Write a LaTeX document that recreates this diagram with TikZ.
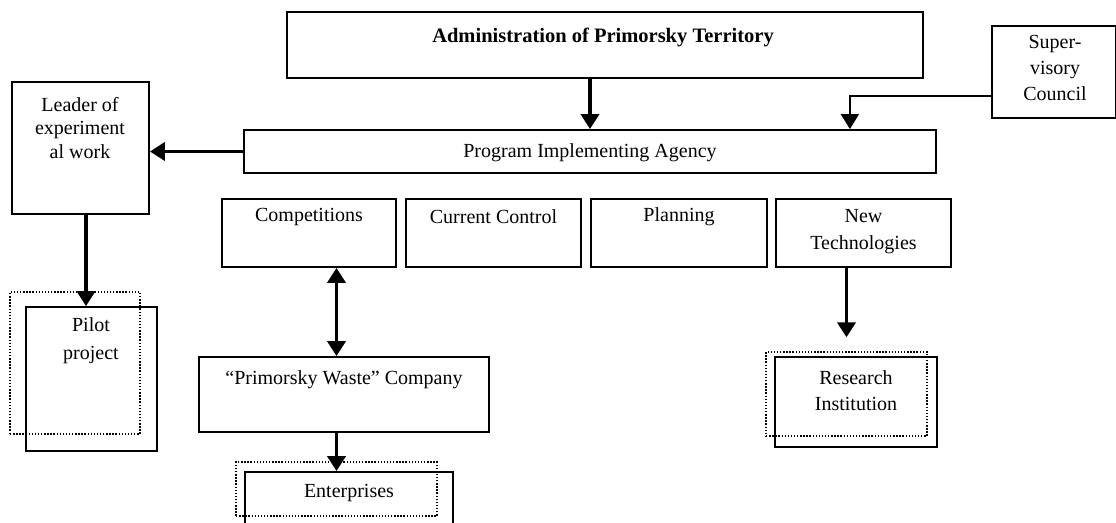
\documentclass[tikz,border=0pt]{standalone}
\usepackage{fontspec}
\setmainfont{Liberation Serif}
\usetikzlibrary{arrows.meta,calc}
\begin{document}
\begin{tikzpicture}[x=1pt,y=-1pt,
  box/.style 2 args={draw,line width=1.8pt,minimum width=#1pt,minimum height=#2pt,inner sep=0pt},
  dotbox/.style 2 args={draw,line width=1.4pt,dash pattern=on 1.4pt off 1.7pt,minimum width=#1pt,minimum height=#2pt,inner sep=0pt},
  txt/.style={inner sep=0pt,align=center,font=\fontsize{20}{26}\selectfont},
  arr/.style={line width=3.8pt,-{Triangle[width=18pt,length=15pt]}},
  darr/.style={line width=3.8pt,{Triangle[width=18pt,length=15pt]}-{Triangle[width=18pt,length=15pt]}},
  thin/.style={line width=1.6pt,-{Triangle[width=18pt,length=15pt]}}]
\path[use as bounding box,fill=white] (0,0) rectangle (1116,522);
\clip (0,0) rectangle (1116,522);
% boxes
\node[box={636}{66}] (admin) at (605,45) {};
\node[txt,font=\bfseries\fontsize{20.5}{26}\selectfont] (adminT) at (603,37) {Administration of Primorsky Territory};
\node[box={124}{92}] (sup) at (1054,72) {};
\node[txt] (supT) at (1055,68) {Super-\\visory\\Council};
\node[box={692}{43}] (pia) at (590,151.5) {};
\node[txt] (piaT) at (590,153) {Program Implementing Agency};
\node[box={137}{132}] (leader) at (80.5,148) {};
\node[txt,font=\fontsize{20}{23.5}\selectfont] (leaderT) at (80,128) {Leader of\\experiment\\al work};
\node[box={174}{68}] (comp) at (309,233) {};
\node[txt] (compT) at (309,217) {Competitions};
\node[box={175}{68}] (cc) at (493.5,233) {};
\node[txt] (ccT) at (493.5,217) {Current Control};
\node[box={176}{68}] (plan) at (679,233) {};
\node[txt] (planT) at (679,217) {Planning};
\node[box={175}{68}] (nt) at (863.5,233) {};
\node[txt,font=\fontsize{20}{27}\selectfont] (ntT) at (863.5,231.5) {New\\Technologies};
\node[box={290}{75}] (company) at (344,394.5) {};
\node[txt] (companyT) at (344,380) {``Primorsky Waste'' Company};
\node[dotbox={201}{54}] (entd) at (336.5,489) {};
\node[box={208}{58}] (ents) at (349,501) {};
\node[txt] (entT) at (349,493) {Enterprises};
\node[dotbox={130}{142}] (pilotd) at (75,363) {};
\node[box={131}{144}] (pilots) at (91.5,379) {};
\node[txt,font=\fontsize{20}{28}\selectfont] (pilotT) at (91,341) {Pilot\\project};
\node[dotbox={161}{84}] (resd) at (846.5,394) {};
\node[box={162}{90}] (ress) at (856,402) {};
\node[txt] (resT) at (856,391) {Research\\Institution};
% connectors
\draw[arr] (pia.north |- admin.south) -- (pia.north);
\coordinate (supout) at ($(sup.west)+(0,24)$);
\coordinate (supin) at ($(pia.north east)+(-87,0)$);
\draw[thin] (supout) -| (supin);
\draw[arr] (pia.west) -- (leader.east |- pia.west);
\coordinate (lp1) at ($(leader.south)+(5.5,0)$);
\draw[arr] (lp1) -- (lp1 |- pilots.north);
\draw[darr] (entd.north |- comp.south) -- (entd.north |- company.north);
\draw[arr] (entd.north |- company.south) -- (entd.north |- ents.north);
\draw[arr,shorten >=14pt] (resd.north |- nt.south) -- (resd.north);
\end{tikzpicture}
\end{document}
